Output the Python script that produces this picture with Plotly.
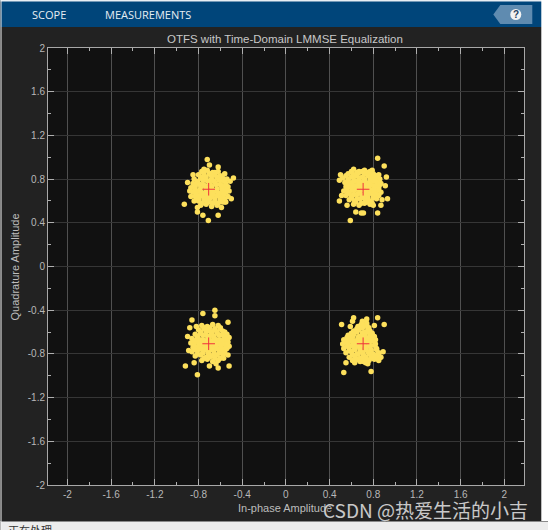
import plotly.graph_objects as go

WIDTH = 548
HEIGHT = 530
PLOT_L, PLOT_R, PLOT_T, PLOT_B = 47.5, 523.7, 48, 485

TITLE = 'OTFS with Time-Domain LMMSE Equalization'
X_TITLE = 'In-phase Amplitude'
Y_TITLE = 'Quadrature Amplitude'
TICKS = [-2, -1.6, -1.2, -0.8, -0.4, 0, 0.4, 0.8, 1.2, 1.6, 2]
TICK_LABELS = ['-2', '-1.6', '-1.2', '-0.8', '-0.4', '0', '0.4', '0.8', '1.2', '1.6', '2']

# reference constellation
ref_x = [-0.7071, 0.7071, -0.7071, 0.7071]
ref_y = [0.7071, 0.7071, -0.7071, -0.7071]

# received symbols, one pair of lists per quadrant
tl_x = [-0.72, -0.70, -0.62, -0.75, -0.85, -0.48, -0.51, -0.90, -0.88, -0.93, -0.50, -0.56, -0.59, -0.62, -0.71, -0.76,
        -0.81, -0.81, -0.84, -0.87,
        -0.77, -0.72, -0.67, -0.62,
        -0.80, -0.75, -0.70, -0.65, -0.60, -0.56,
        -0.84, -0.78, -0.73, -0.68, -0.63, -0.58, -0.54,
        -0.85, -0.81, -0.76, -0.70, -0.65, -0.60, -0.55,
        -0.87, -0.83, -0.78, -0.73, -0.68, -0.63, -0.58, -0.53,
        -0.85, -0.80, -0.75, -0.70, -0.65, -0.60, -0.55, -0.52,
        -0.83, -0.78, -0.73, -0.68, -0.63, -0.58, -0.53,
        -0.80, -0.75, -0.70, -0.65, -0.60, -0.55,
        -0.78, -0.73, -0.68, -0.63,
        # inner fill
        -0.75, -0.70, -0.65,
        -0.78, -0.73, -0.68, -0.63, -0.58,
        -0.81, -0.76, -0.71, -0.66, -0.61, -0.56,
        -0.84, -0.79, -0.74, -0.69, -0.64, -0.59, -0.55,
        -0.83, -0.78, -0.73, -0.68, -0.63, -0.58, -0.54,
        -0.82, -0.77, -0.72, -0.67, -0.62, -0.57,
        -0.80, -0.75, -0.70, -0.65, -0.60, -0.56,
        -0.77, -0.72, -0.67, -0.62, -0.58]
tl_y = [0.98, 0.93, 0.91, 0.89, 0.84, 0.81, 0.78, 0.77, 0.69, 0.57, 0.62, 0.59, 0.54, 0.47, 0.42, 0.47,
        0.50, 0.54, 0.60, 0.64,
        0.87, 0.88, 0.86, 0.87,
        0.84, 0.83, 0.85, 0.84, 0.83, 0.85,
        0.80, 0.81, 0.79, 0.80, 0.81, 0.79, 0.80,
        0.76, 0.77, 0.75, 0.76, 0.77, 0.75, 0.76,
        0.72, 0.73, 0.71, 0.72, 0.73, 0.71, 0.72, 0.73,
        0.68, 0.69, 0.67, 0.68, 0.69, 0.67, 0.68, 0.69,
        0.64, 0.65, 0.63, 0.64, 0.65, 0.63, 0.64,
        0.60, 0.61, 0.59, 0.60, 0.61, 0.59,
        0.56, 0.57, 0.55, 0.56,
        # inner fill
        0.86, 0.85, 0.86,
        0.82, 0.82, 0.83, 0.82, 0.81,
        0.78, 0.79, 0.78, 0.78, 0.79, 0.78,
        0.74, 0.75, 0.74, 0.74, 0.75, 0.74, 0.74,
        0.70, 0.71, 0.70, 0.70, 0.71, 0.70, 0.70,
        0.66, 0.67, 0.66, 0.66, 0.67, 0.66,
        0.62, 0.63, 0.62, 0.62, 0.63, 0.62,
        0.58, 0.59, 0.58, 0.58, 0.59]

tr_x = [0.84, 0.90, 0.79, 0.85, 0.92, 0.50, 0.49, 0.91, 0.93, 0.88, 0.87, 0.84, 0.49, 0.56, 0.64, 0.71,
        0.59, 0.69, 0.80, 0.51,
        0.62, 0.67, 0.72, 0.77,
        0.57, 0.62, 0.67, 0.72, 0.77, 0.82,
        0.52, 0.57, 0.62, 0.67, 0.72, 0.77, 0.82, 0.86,
        0.54, 0.59, 0.64, 0.69, 0.74, 0.79, 0.84, 0.87,
        0.55, 0.60, 0.65, 0.70, 0.75, 0.80, 0.85,
        0.53, 0.58, 0.63, 0.68, 0.73, 0.78, 0.83, 0.87,
        0.55, 0.60, 0.65, 0.70, 0.75, 0.80, 0.85,
        0.58, 0.63, 0.68, 0.73, 0.78, 0.83,
        0.62, 0.67, 0.72, 0.77,
        # inner fill
        0.60, 0.65, 0.70, 0.75, 0.80,
        0.55, 0.60, 0.65, 0.70, 0.75, 0.80, 0.84,
        0.57, 0.62, 0.67, 0.72, 0.77, 0.82,
        0.57, 0.62, 0.67, 0.72, 0.77, 0.82, 0.86,
        0.56, 0.61, 0.66, 0.71, 0.76, 0.81, 0.85,
        0.57, 0.62, 0.67, 0.72, 0.77, 0.82,
        0.60, 0.65, 0.70, 0.75, 0.80,
        0.64, 0.69, 0.74, 0.79]
tr_y = [0.99, 0.92, 0.88, 0.84, 0.82, 0.84, 0.79, 0.74, 0.62, 0.61, 0.56, 0.49, 0.60, 0.56, 0.50, 0.49,
        0.42, 0.49, 0.56, 0.65,
        0.89, 0.87, 0.88, 0.87,
        0.85, 0.84, 0.86, 0.85, 0.84, 0.83,
        0.81, 0.80, 0.82, 0.81, 0.80, 0.82, 0.81, 0.80,
        0.77, 0.76, 0.78, 0.77, 0.76, 0.78, 0.77, 0.76,
        0.73, 0.72, 0.74, 0.73, 0.72, 0.74, 0.73,
        0.69, 0.68, 0.70, 0.69, 0.68, 0.70, 0.69, 0.68,
        0.65, 0.64, 0.66, 0.65, 0.64, 0.66, 0.65,
        0.61, 0.60, 0.62, 0.61, 0.60, 0.62,
        0.57, 0.56, 0.58, 0.57,
        # inner fill
        0.87, 0.86, 0.87, 0.86, 0.85,
        0.83, 0.82, 0.83, 0.82, 0.83, 0.82, 0.83,
        0.79, 0.78, 0.79, 0.78, 0.79, 0.78,
        0.75, 0.74, 0.75, 0.74, 0.75, 0.74, 0.75,
        0.71, 0.70, 0.71, 0.70, 0.71, 0.70, 0.71,
        0.67, 0.66, 0.67, 0.66, 0.67, 0.66,
        0.63, 0.62, 0.63, 0.62, 0.63,
        0.59, 0.58, 0.59, 0.58]

bl_x = [-0.65, -0.76, -0.65, -0.53, -0.86, -0.82, -0.88, -0.90, -0.89, -0.56, -0.53, -0.57, -0.52, -0.62, -0.70, -0.84,
        -0.92, -0.81, -0.64,
        -0.77, -0.72, -0.67, -0.62,
        -0.80, -0.75, -0.70, -0.65, -0.60,
        -0.83, -0.78, -0.73, -0.68, -0.63, -0.58, -0.54,
        -0.86, -0.81, -0.76, -0.71, -0.66, -0.61, -0.56, -0.52,
        -0.87, -0.82, -0.77, -0.72, -0.67, -0.62, -0.57, -0.53,
        -0.85, -0.80, -0.75, -0.70, -0.65, -0.60, -0.55, -0.52,
        -0.86, -0.81, -0.76, -0.71, -0.66, -0.61, -0.56,
        -0.83, -0.78, -0.73, -0.68, -0.63, -0.58,
        -0.77, -0.72, -0.67, -0.62,
        # inner fill
        -0.75, -0.70, -0.65, -0.60,
        -0.78, -0.73, -0.68, -0.63, -0.58,
        -0.81, -0.76, -0.71, -0.66, -0.61, -0.56,
        -0.84, -0.79, -0.74, -0.69, -0.64, -0.59, -0.54,
        -0.84, -0.79, -0.74, -0.69, -0.64, -0.59, -0.54,
        -0.83, -0.78, -0.73, -0.68, -0.63, -0.58, -0.54,
        -0.81, -0.76, -0.71, -0.66, -0.61, -0.57,
        -0.75, -0.70, -0.65, -0.60]
bl_y = [-0.40, -0.43, -0.45, -0.51, -0.49, -0.55, -0.56, -0.64, -0.77, -0.60, -0.81, -0.84, -0.91, -0.93, -0.91, -0.88,
        -0.91, -0.99, -0.89,
        -0.54, -0.55, -0.53, -0.54,
        -0.58, -0.57, -0.59, -0.58, -0.57,
        -0.62, -0.61, -0.63, -0.62, -0.61, -0.63, -0.62,
        -0.66, -0.65, -0.67, -0.66, -0.65, -0.67, -0.66, -0.65,
        -0.70, -0.69, -0.71, -0.70, -0.69, -0.71, -0.70, -0.69,
        -0.74, -0.73, -0.75, -0.74, -0.73, -0.75, -0.74, -0.73,
        -0.78, -0.77, -0.79, -0.78, -0.77, -0.79, -0.78,
        -0.82, -0.81, -0.83, -0.82, -0.81, -0.83,
        -0.86, -0.85, -0.87, -0.86,
        # inner fill
        -0.56, -0.56, -0.57, -0.56,
        -0.60, -0.59, -0.60, -0.60, -0.59,
        -0.64, -0.63, -0.64, -0.64, -0.63, -0.64,
        -0.68, -0.67, -0.68, -0.68, -0.67, -0.68, -0.67,
        -0.72, -0.71, -0.72, -0.72, -0.71, -0.72, -0.71,
        -0.76, -0.75, -0.76, -0.76, -0.75, -0.76, -0.75,
        -0.80, -0.79, -0.80, -0.80, -0.79, -0.80,
        -0.84, -0.83, -0.84, -0.84]

br_x = [0.62, 0.61, 0.74, 0.84, 0.90, 0.51, 0.59, 0.81, 0.86, 0.85, 0.55, 0.53, 0.78, 0.89, 0.75, 0.63,
        0.70, 0.74,
        0.66, 0.71, 0.76,
        0.62, 0.67, 0.72, 0.77,
        0.57, 0.62, 0.67, 0.72, 0.77, 0.81,
        0.53, 0.58, 0.63, 0.68, 0.73, 0.78, 0.82,
        0.52, 0.57, 0.62, 0.67, 0.72, 0.77, 0.82,
        0.53, 0.58, 0.63, 0.68, 0.73, 0.78, 0.83,
        0.55, 0.60, 0.65, 0.70, 0.75, 0.80, 0.85,
        0.58, 0.63, 0.68, 0.73, 0.78, 0.83, 0.87,
        0.61, 0.66, 0.71, 0.76, 0.81,
        0.63, 0.68, 0.73,
        # inner fill
        0.69, 0.74,
        0.65, 0.70, 0.75,
        0.60, 0.65, 0.70, 0.75, 0.79,
        0.56, 0.61, 0.66, 0.71, 0.76, 0.80,
        0.55, 0.60, 0.65, 0.70, 0.75, 0.80,
        0.56, 0.61, 0.66, 0.71, 0.76, 0.81,
        0.58, 0.63, 0.68, 0.73, 0.78, 0.83,
        0.61, 0.66, 0.71, 0.76, 0.81, 0.85,
        0.64, 0.69, 0.74, 0.79]
br_y = [-0.47, -0.50, -0.48, -0.47, -0.53, -0.53, -0.55, -0.54, -0.83, -0.86, -0.88, -0.97, -0.96, -0.78, -0.89, -0.87,
        -0.50, -0.52,
        -0.55, -0.54, -0.56,
        -0.59, -0.58, -0.60, -0.59,
        -0.63, -0.62, -0.64, -0.63, -0.62, -0.64,
        -0.67, -0.66, -0.68, -0.67, -0.66, -0.68, -0.67,
        -0.71, -0.70, -0.72, -0.71, -0.70, -0.72, -0.71,
        -0.75, -0.74, -0.76, -0.75, -0.74, -0.76, -0.75,
        -0.79, -0.78, -0.80, -0.79, -0.78, -0.80, -0.79,
        -0.83, -0.82, -0.84, -0.83, -0.82, -0.84, -0.83,
        -0.86, -0.85, -0.87, -0.86, -0.85,
        -0.88, -0.87, -0.88,
        # inner fill
        -0.53, -0.54,
        -0.57, -0.56, -0.57,
        -0.61, -0.60, -0.61, -0.60, -0.61,
        -0.65, -0.64, -0.65, -0.64, -0.65, -0.64,
        -0.69, -0.68, -0.69, -0.68, -0.69, -0.68,
        -0.73, -0.72, -0.73, -0.72, -0.73, -0.72,
        -0.77, -0.76, -0.77, -0.76, -0.77, -0.76,
        -0.81, -0.80, -0.81, -0.80, -0.81, -0.80,
        -0.85, -0.84, -0.85, -0.84]


def px_x(px):
    return (px - PLOT_L) / (PLOT_R - PLOT_L)


def px_y(py):
    return (PLOT_B - py) / (PLOT_B - PLOT_T)


def band(x0, y0, x1, y1, color):
    return dict(type='rect', xref='paper', yref='paper', layer='above',
                x0=px_x(x0), x1=px_x(x1), y0=px_y(y0), y1=px_y(y1),
                fillcolor=color, line_width=0)


def label(text, px, py, color='#bdbdbd', size=11, family='Liberation Sans', **kw):
    return dict(text=text, xref='paper', yref='paper', x=px_x(px), y=px_y(py),
                xanchor='center', yanchor='middle', showarrow=False,
                font=dict(color=color, size=size, family=family), **kw)


fig = go.Figure()

for xs, ys in [(tl_x, tl_y), (tr_x, tr_y), (bl_x, bl_y), (br_x, br_y)]:
    fig.add_trace(go.Scatter(x=xs, y=ys, mode='markers', showlegend=False,
                             marker=dict(color='#fde05c', size=5.5, line_width=0)))

fig.add_trace(go.Scatter(x=ref_x, y=ref_y, mode='markers', showlegend=False,
                         marker=dict(symbol='cross-thin', size=9,
                                     line=dict(color='#f0323c', width=1))))

axis_style = dict(tickvals=TICKS, ticktext=TICK_LABELS,
                  ticks='inside', ticklen=6, tickcolor='#b0b0b0', tickwidth=1,
                  showline=True, linecolor='#a8a8a8', linewidth=1, mirror='allticks',
                  zeroline=False, tickfont=dict(color='#b8b8b8', size=10, family='Liberation Sans'),
                  minor=dict(dtick=0.2, tick0=0, ticks='inside', ticklen=3,
                             tickcolor='#b0b0b0', showgrid=False))

fig.update_xaxes(range=[-2.178, 2.18], showgrid=True, gridcolor='#505050', gridwidth=1, **axis_style)
fig.update_yaxes(range=[-2, 2], showgrid=True, gridcolor='#363636', gridwidth=1, **axis_style)

shapes = [
    band(0, 0, 548, 27, '#00457a'),
    band(0, 0, 548, 1.5, '#e8eef4'),
    band(541, 0, 548, 530, '#ffffff'),
    band(0, 521, 548, 530, '#ececec'),
    band(0, 521, 548, 522, '#8a8a8a'),
    band(0, 0, 1, 530, '#f4f4f4'),
    dict(type='path', xref='paper', yref='paper', layer='above', line_width=0, fillcolor='#5f8bb0',
         path='M {} {} L {} {} L {} {} L {} {} L {} {} Z'.format(
             px_x(493), px_y(14.5), px_x(500), px_y(5), px_x(532), px_y(5),
             px_x(532), px_y(24), px_x(500), px_y(24))),
    dict(type='circle', xref='paper', yref='paper', layer='above', line_width=0, fillcolor='#f2f2f2',
         x0=px_x(510), x1=px_x(521), y0=px_y(20), y1=px_y(9)),
]

annotations = [
    label('SCOPE', 48.5, 14.5, '#e6edf3', 11, 'Open Sans'),
    label('MEASUREMENTS', 148, 14.5, '#e6edf3', 11, 'Open Sans'),
    label('<b>?</b>', 515.5, 14.5, '#1f3f5f', 10),
    label(TITLE, 285, 39, '#c8c8c8', 11.5),
    label(X_TITLE, 285, 508, '#bdbdbd', 11),
    label(Y_TITLE, 14, 267, '#bdbdbd', 11, textangle=-90),
    label('CSDN @热爱生活的小吉', 426, 510, '#2a2a2a', 19, 'Noto Sans CJK SC'),
    label('CSDN @热爱生活的小吉', 425, 509, '#c9c9c9', 19, 'Noto Sans CJK SC'),
    label('正在处理', 29, 530, '#333333', 11, 'Noto Sans CJK SC'),
]

fig.update_layout(width=WIDTH, height=HEIGHT, autosize=False,
                  margin=dict(l=PLOT_L, r=WIDTH - PLOT_R, t=PLOT_T, b=HEIGHT - PLOT_B, pad=0),
                  paper_bgcolor='#222222', plot_bgcolor='#111111',
                  shapes=shapes, annotations=annotations, showlegend=False)

# the browser's default body margin would push the figure 8px off
fig.write_html('out.html', config={'displayModeBar': False},
               post_script="document.body.style.margin='0';")
